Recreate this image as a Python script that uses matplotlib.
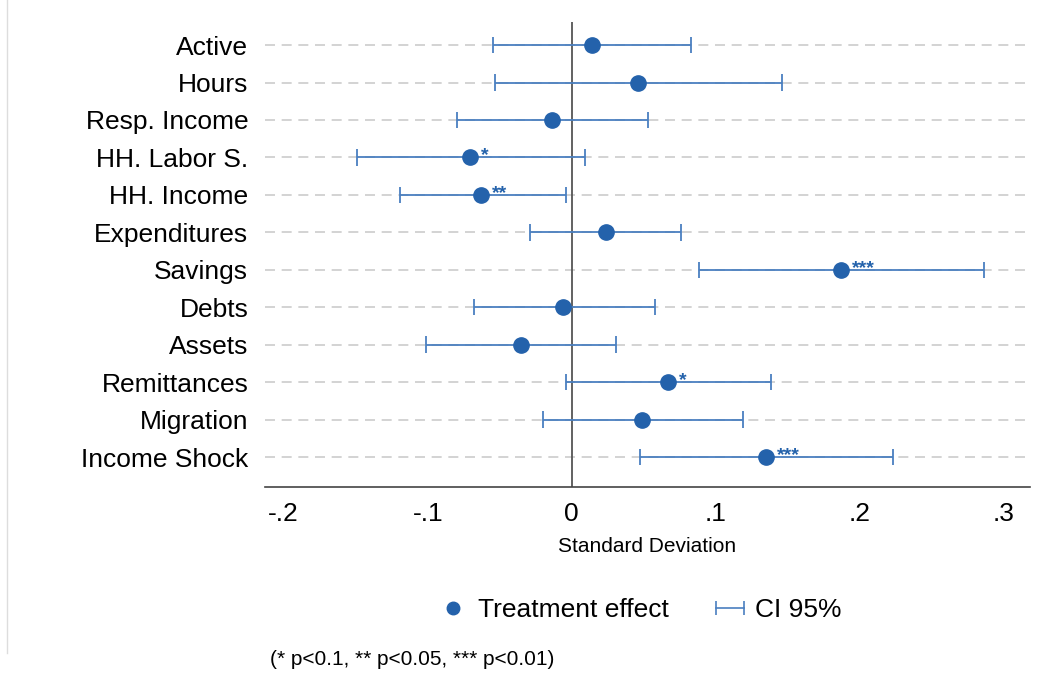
import matplotlib.pyplot as plt
from matplotlib.lines import Line2D
from matplotlib.legend_handler import HandlerLine2D

plt.rcParams['font.family'] = ['Liberation Sans', 'DejaVu Sans']

labels = ["Active", "Hours", "Resp. Income", "HH. Labor S.", "HH. Income",
          "Expenditures", "Savings", "Debts", "Assets", "Remittances",
          "Migration", "Income Shock"]
effect = [0.014, 0.046, -0.014, -0.071, -0.063, 0.024, 0.187, -0.006,
          -0.035, 0.067, 0.049, 0.135]
ci_low = [-0.055, -0.053, -0.080, -0.149, -0.119, -0.029, 0.088, -0.068,
          -0.101, -0.004, -0.020, 0.047]
ci_high = [0.083, 0.146, 0.053, 0.009, -0.004, 0.076, 0.286, 0.058,
           0.031, 0.138, 0.119, 0.223]
stars = ["", "", "", "*", "**", "", "***", "", "", "*", "", "***"]
xticks = [-0.2, -0.1, 0, 0.1, 0.2, 0.3]
xticklabels = ["-.2", "-.1", "0", ".1", ".2", ".3"]

blue = "#2462ab"
ci_col = "#4a7fc0"

fig = plt.figure(figsize=(10.43, 6.73), dpi=100)
ax = fig.add_axes([0.254, 0.2764, 0.7335, 0.6906])

ypos = list(range(len(labels)))
for y in ypos:
    ax.axhline(y, color="#cccccc", lw=1.2, ls=(0, (6, 4)), zorder=0)

ax.axvline(0, color="#555555", lw=1.3, zorder=1)

for y, lo, hi in zip(ypos, ci_low, ci_high):
    ax.hlines(y, lo, hi, color=ci_col, lw=1.3, zorder=2)
    ax.vlines([lo, hi], y - 0.22, y + 0.22, color=ci_col, lw=1.3, zorder=2)

ax.plot(effect, ypos, "o", color=blue, ms=11, zorder=3)

for y, e, s in zip(ypos, effect, stars):
    if s:
        ax.annotate(s, (e, y), xytext=(8, 1), textcoords="offset points",
                    color=blue, fontsize=14, fontweight="bold", va="center")

ax.set_ylim(11.8, -0.61)
ax.set_xlim(-0.213, 0.318)
ax.set_yticks(ypos)
ax.set_yticklabels(labels, fontsize=19)
ax.set_xticks(xticks)
ax.set_xticklabels(xticklabels, fontsize=19)
ax.tick_params(axis="y", length=0, pad=12)
ax.tick_params(axis="x", length=0, pad=11)
for side in ["top", "right", "left"]:
    ax.spines[side].set_visible(False)
ax.spines["bottom"].set_color("#444444")
ax.spines["bottom"].set_linewidth(1.2)
ax.set_xlabel("Standard Deviation", fontsize=15, labelpad=8)

h_dot = Line2D([], [], ls="none", marker="o", color=blue, ms=9)
h_ci = Line2D([], [], color=ci_col, lw=1.2, marker="|", ms=10, mew=1.2)
fig.legend([h_dot, h_ci], ["Treatment effect", "CI 95%"],
           handler_map={h_ci: HandlerLine2D(numpoints=2, marker_pad=0),
                        h_dot: HandlerLine2D(numpoints=1)},
           loc="center", bbox_to_anchor=(0.614, 0.094), ncol=2, frameon=False,
           fontsize=19, handlelength=1.06, columnspacing=1.8, handletextpad=0.4)

fig.text(0.259, 0.012, "(* p<0.1, ** p<0.05, *** p<0.01)", fontsize=15)
fig.add_artist(Line2D([0.007, 0.007], [0.03, 1.0], color="#dddddd", lw=1))

fig.savefig("out.png", dpi=100)
